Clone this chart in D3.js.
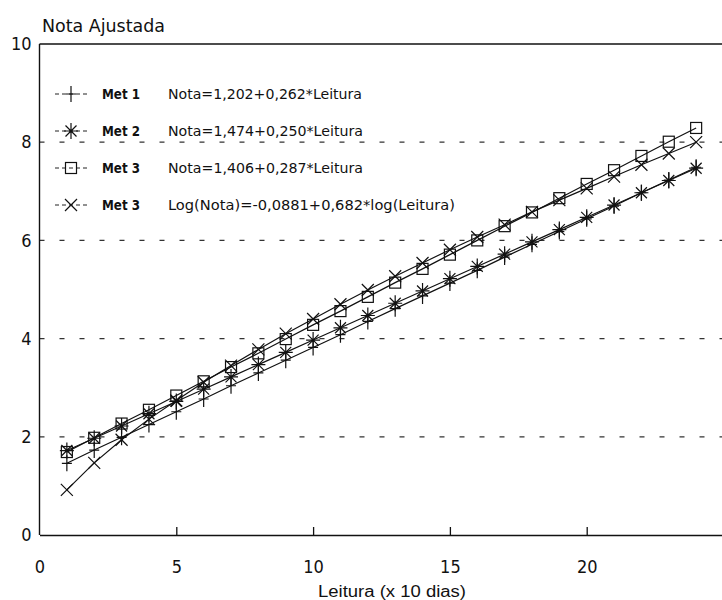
<!DOCTYPE html>
<html>
<head>
<meta charset="utf-8">
<script src="https://cdn.jsdelivr.net/npm/d3@7"></script>
<style>
  html, body { margin: 0; padding: 0; background: #fff; }
  svg { display: block; }
  text { font-family: "DejaVu Sans Condensed", "Liberation Sans Narrow", "Liberation Sans", sans-serif; fill: #111; }
</style>
</head>
<body>
<svg id="chart" width="722" height="600"></svg>
<script>
// Readings (x 10 dias)
const leitura = [1,2,3,4,5,6,7,8,9,10,11,12,13,14,15,16,17,18,19,20,21,22,23,24];

// Adjusted scores per method
const met1 = [1.46,1.73,1.99,2.25,2.51,2.77,3.04,3.30,3.56,3.82,4.08,4.35,4.61,4.87,5.13,5.39,5.66,5.92,6.18,6.44,6.70,6.97,7.23,7.49];
const met2 = [1.72,1.97,2.22,2.47,2.72,2.97,3.22,3.47,3.72,3.97,4.22,4.47,4.72,4.97,5.22,5.47,5.72,5.97,6.22,6.47,6.72,6.97,7.22,7.47];
const met3 = [1.69,1.98,2.27,2.55,2.84,3.13,3.42,3.70,3.99,4.28,4.56,4.85,5.14,5.42,5.71,6.00,6.29,6.57,6.86,7.15,7.43,7.72,8.01,8.29];
const met3log = [0.92,1.47,1.94,2.36,2.74,3.11,3.45,3.78,4.10,4.40,4.70,4.99,5.27,5.54,5.81,6.07,6.32,6.58,6.82,7.06,7.30,7.54,7.77,8.00];

const seriesNames = ["Met 1", "Met 2", "Met 3", "Met 3"];
const equations = [
  "Nota=1,202+0,262*Leitura",
  "Nota=1,474+0,250*Leitura",
  "Nota=1,406+0,287*Leitura",
  "Log(Nota)=-0,0881+0,682*log(Leitura)"
];
const markerKinds = ["plus", "asterisk", "square", "cross"];

const xTicks = [0, 5, 10, 15, 20];
const yTicks = [0, 2, 4, 6, 8, 10];
const gridTicks = [2, 4, 6, 8];

const svg = d3.select("#chart");
const plotLeft = 39.5, plotRight = 723.5, plotTop = 44, plotBottom = 535;

const x = d3.scaleLinear().domain([0, 25]).range([plotLeft, plotRight]);
const y = d3.scaleLinear().domain([0, 10]).range([plotBottom, plotTop]);

// Dashed horizontal grid
svg.append("g")
  .selectAll("line")
  .data(gridTicks)
  .join("line")
  .attr("x1", plotLeft).attr("x2", 722)
  .attr("y1", d => y(d)).attr("y2", d => y(d))
  .attr("stroke", "#333")
  .attr("stroke-width", 1.3)
  .attr("stroke-dasharray", "5,15");

// Frame: top and left
svg.append("line").attr("x1", plotLeft).attr("x2", 722).attr("y1", y(10)).attr("y2", y(10))
  .attr("stroke", "#111").attr("stroke-width", 1.4);
svg.append("line").attr("x1", plotLeft).attr("x2", plotLeft).attr("y1", y(10)).attr("y2", y(0))
  .attr("stroke", "#111").attr("stroke-width", 1.4);

// X axis with inward ticks
const xAxis = svg.append("g")
  .attr("transform", `translate(0,${plotBottom})`)
  .call(d3.axisBottom(x).tickValues(xTicks).tickSizeInner(-8).tickSizeOuter(0).tickPadding(25));
xAxis.select(".domain").attr("stroke", "#111").attr("stroke-width", 1.4);
xAxis.selectAll(".tick line").attr("stroke", "#111").attr("stroke-width", 1.3);
xAxis.selectAll(".tick text").attr("font-size", 18).attr("fill", "#111")
  .style("font-family", "\"DejaVu Sans Condensed\", \"Liberation Sans\", sans-serif");
xAxis.selectAll(".tick").filter(d => d === 0).select("line").remove();

// Y axis labels
const yAxis = svg.append("g")
  .attr("transform", `translate(${plotLeft},0)`)
  .call(d3.axisLeft(y).tickValues(yTicks).tickSize(0).tickPadding(8));
yAxis.select(".domain").remove();
yAxis.selectAll(".tick text").attr("font-size", 18).attr("fill", "#111")
  .style("font-family", "\"DejaVu Sans Condensed\", \"Liberation Sans\", sans-serif");

// Titles
svg.append("text").attr("x", 42).attr("y", 32).attr("font-size", 18)
  .attr("textLength", 123).attr("lengthAdjust", "spacingAndGlyphs")
  .text("Nota Ajustada");
svg.append("text").attr("x", 318).attr("y", 597).attr("font-size", 16)
  .style("font-family", "\"Liberation Sans\", Arial, sans-serif").attr("fill", "#333")
  .attr("textLength", 148).attr("lengthAdjust", "spacingAndGlyphs")
  .text("Leitura (x 10 dias)");

// Marker drawing
function drawMarker(g, kind) {
  const s = g.attr("stroke", "#111").attr("stroke-width", 1.2).attr("fill", "none");
  if (kind === "plus") {
    s.append("path").attr("d", "M0,-8V8M-5,0H5");
  } else if (kind === "asterisk") {
    s.append("path").attr("d", "M0,-8V8M-7,0H7M-5.5,-5.5L5.5,5.5M-5.5,5.5L5.5,-5.5");
  } else if (kind === "square") {
    s.append("rect").attr("x", -5.5).attr("y", -5.5).attr("width", 11).attr("height", 11);
  } else {
    s.append("path").attr("d", "M-6,-6L6,6M-6,6L6,-6");
  }
}

const allSeries = [met1, met2, met3, met3log];
const line = d3.line().x(d => x(d[0])).y(d => y(d[1]));

allSeries.forEach((vals, i) => {
  const pts = leitura.map((l, j) => [l, vals[j]]);
  svg.append("path").datum(pts)
    .attr("d", line)
    .attr("fill", "none")
    .attr("stroke", "#111")
    .attr("stroke-width", 1.2);
  svg.append("g").selectAll("g")
    .data(pts)
    .join("g")
    .attr("transform", d => `translate(${x(d[0])},${y(d[1])})`)
    .each(function () { drawMarker(d3.select(this), markerKinds[i]); });
});

// Legend
const legendRows = [94, 131, 168, 205];
const eqLengths = [194, 195, 195, 287];
seriesNames.forEach((name, i) => {
  const ry = legendRows[i];
  svg.append("line").attr("x1", 55).attr("x2", 88).attr("y1", ry).attr("y2", ry)
    .attr("stroke", "#222").attr("stroke-width", 1).attr("stroke-dasharray", "4,3");
  drawMarker(svg.append("g").attr("transform", `translate(71,${ry})`), markerKinds[i]);
  svg.append("text").attr("x", 102).attr("y", ry + 5).attr("font-size", 14)
    .attr("font-weight", "bold")
    .attr("textLength", 38).attr("lengthAdjust", "spacingAndGlyphs")
    .text(name);
  svg.append("text").attr("x", 168).attr("y", ry + 5).attr("font-size", 14)
    .attr("textLength", eqLengths[i]).attr("lengthAdjust", "spacingAndGlyphs")
    .text(equations[i]);
});
</script>
</body>
</html>
